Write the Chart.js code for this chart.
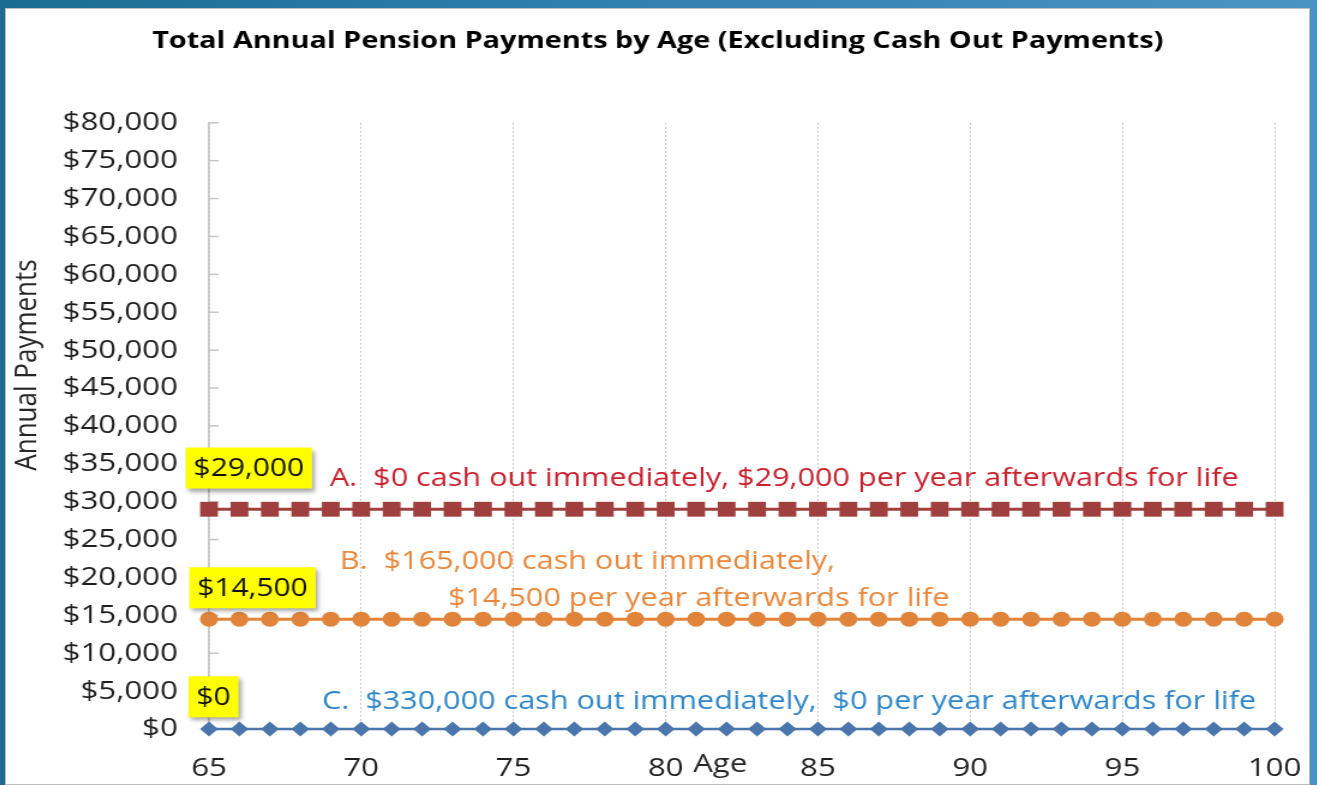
<!DOCTYPE html>
<html>
<head>
<meta charset="utf-8">
<title>Total Annual Pension Payments by Age</title>
<script src="https://cdn.jsdelivr.net/npm/chart.js@4/dist/chart.umd.min.js"></script>
<style>
    html, body { margin: 0; padding: 0; }
    body {
        width: 1317px;
        height: 785px;
        overflow: hidden;
        position: relative;
        background: linear-gradient(to right, #1a6d91, #2f7fb0 45%, #4b93c3);
    }
    #frame {
        position: absolute;
        left: 5px;
        top: 8px;
        width: 1305px;
        height: 777px;
        background: #fff;
        box-shadow: inset 0 0 0 1px #bdbdbd;
        overflow: hidden;
    }
    /* the source picture is stretched sideways, so the chart is too */
    #wrap {
        position: absolute;
        left: 0;
        top: 0;
        width: 1088px;
        height: 777px;
        transform: scaleX(1.2);
        transform-origin: 0 0;
    }
</style>
</head>
<body>
<div id="frame">
    <div id="wrap"><canvas id="pensionChart"></canvas></div>
</div>
<script>
// Chart data
const ages = [65, 66, 67, 68, 69, 70, 71, 72, 73, 74, 75, 76, 77, 78, 79, 80, 81, 82,
              83, 84, 85, 86, 87, 88, 89, 90, 91, 92, 93, 94, 95, 96, 97, 98, 99, 100];
const planA = [29000, 29000, 29000, 29000, 29000, 29000, 29000, 29000, 29000, 29000, 29000, 29000,
               29000, 29000, 29000, 29000, 29000, 29000, 29000, 29000, 29000, 29000, 29000, 29000,
               29000, 29000, 29000, 29000, 29000, 29000, 29000, 29000, 29000, 29000, 29000, 29000];
const planB = [14500, 14500, 14500, 14500, 14500, 14500, 14500, 14500, 14500, 14500, 14500, 14500,
               14500, 14500, 14500, 14500, 14500, 14500, 14500, 14500, 14500, 14500, 14500, 14500,
               14500, 14500, 14500, 14500, 14500, 14500, 14500, 14500, 14500, 14500, 14500, 14500];
const planC = [0, 0, 0, 0, 0, 0, 0, 0, 0, 0, 0, 0,
               0, 0, 0, 0, 0, 0, 0, 0, 0, 0, 0, 0,
               0, 0, 0, 0, 0, 0, 0, 0, 0, 0, 0, 0];
const seriesLabels = ['A', 'B', 'C'];
const xTicks = [65, 70, 75, 80, 85, 90, 95, 100];
const yTicks = [0, 5000, 10000, 15000, 20000, 25000, 30000, 35000, 40000,
                45000, 50000, 55000, 60000, 65000, 70000, 75000, 80000];

const FONT = "'Open Sans', sans-serif";

function money(v) {
    return '$' + v.toLocaleString('en-US');
}

// Text placed in the plot, anchored in data units (age, dollars)
const planNotes = [
    { text: 'A.  $0 cash out immediately, ' + money(planA[0]) + ' per year afterwards for life', age: 68.97, value: 33130, color: '#c8202c' },
    { text: 'B.  $165,000 cash out immediately,', age: 69.3, value: 22250, color: '#e8873a' },
    { text: money(planB[0]) + ' per year afterwards for life', age: 72.85, value: 17380, color: '#e8873a' },
    { text: 'C.  $330,000 cash out immediately,  ' + money(planC[0]) + ' per year afterwards for life', age: 68.71, value: 3690, color: '#2e86c8' }
];
const valueBoxes = [
    { text: money(planA[0]), age: 66.31, value: 34440 },
    { text: money(planB[0]), age: 66.43, value: 18640 },
    { text: money(planC[0]), age: 65.15, value: 4250 }
];

function toPoints(values) {
    return ages.map((a, i) => ({ x: a, y: values[i] }));
}

// Inward tick marks, yellow value boxes, notes and axis titles
const notesPlugin = {
    id: 'notes',
    beforeDatasetsDraw(chart) {
        const { ctx, chartArea, scales } = chart;
        ctx.save();
        ctx.strokeStyle = '#c6c6c6';
        ctx.lineWidth = 1.5;
        yTicks.forEach(v => {
            const py = scales.y.getPixelForValue(v);
            ctx.beginPath();
            ctx.moveTo(chartArea.left, py);
            ctx.lineTo(chartArea.left + 8, py);
            ctx.stroke();
        });
        ctx.restore();
    },
    afterDatasetsDraw(chart) {
        const { ctx, scales } = chart;
        ctx.save();
        ctx.textBaseline = 'middle';

        ctx.font = '25px ' + FONT;
        valueBoxes.forEach(b => {
            const cx = scales.x.getPixelForValue(b.age);
            const cy = scales.y.getPixelForValue(b.value);
            const w = ctx.measureText(b.text).width + 13;
            const h = 41;
            ctx.save();
            ctx.shadowColor = 'rgba(0,0,0,0.35)';
            ctx.shadowBlur = 4;
            ctx.shadowOffsetX = 2;
            ctx.shadowOffsetY = 3;
            ctx.fillStyle = '#ffff00';
            ctx.fillRect(cx - w / 2, cy - h / 2, w, h);
            ctx.restore();
            ctx.fillStyle = '#111';
            ctx.textAlign = 'center';
            ctx.fillText(b.text, cx, cy + 1);
        });

        ctx.font = '25.5px ' + FONT;
        ctx.textAlign = 'left';
        planNotes.forEach(n => {
            ctx.fillStyle = n.color;
            ctx.fillText(n.text, scales.x.getPixelForValue(n.age), scales.y.getPixelForValue(n.value) + 1);
        });
        ctx.restore();
    },
    afterDraw(chart) {
        const { ctx } = chart;
        ctx.save();
        ctx.fillStyle = '#262626';
        ctx.font = '26px ' + FONT;
        ctx.textAlign = 'center';
        ctx.textBaseline = 'alphabetic';
        ctx.fillText('Age', 596, 764);

        ctx.translate(26, 357);
        ctx.rotate(-Math.PI / 2);
        ctx.fillText('Annual Payments', 0, 0);
        ctx.restore();
    }
};

const ctx = document.getElementById('pensionChart').getContext('2d');
const pensionChart = new Chart(ctx, {
    type: 'line',
    data: {
        datasets: [{
            label: seriesLabels[0],
            data: toPoints(planA),
            borderColor: '#a0403e',
            backgroundColor: '#a0403e',
            borderWidth: 3,
            pointStyle: 'rect',
            pointRadius: 10.5,
            pointBorderWidth: 0,
            clip: false,
            order: 1
        }, {
            label: seriesLabels[1],
            data: toPoints(planB),
            borderColor: '#e0843c',
            backgroundColor: '#e0843c',
            borderWidth: 3,
            pointStyle: 'circle',
            pointRadius: 7.5,
            pointBorderWidth: 0,
            clip: false,
            order: 2
        }, {
            label: seriesLabels[2],
            data: toPoints(planC),
            borderColor: '#4a76ab',
            backgroundColor: '#4a76ab',
            borderWidth: 2.5,
            pointStyle: 'rectRot',
            pointRadius: 7.5,
            pointBorderWidth: 0,
            clip: false,
            order: 3
        }]
    },
    options: {
        responsive: true,
        maintainAspectRatio: false,
        animation: false,
        layout: {
            padding: { left: 30, right: 30, top: 0, bottom: 0 }
        },
        plugins: {
            legend: { display: false },
            tooltip: { enabled: false },
            title: {
                display: true,
                text: 'Total Annual Pension Payments by Age (Excluding Cash Out Payments)',
                color: '#000',
                font: { family: FONT, size: 24, weight: 'bold' },
                padding: { top: 19, bottom: 67 }
            }
        },
        scales: {
            x: {
                type: 'linear',
                min: 65,
                max: 100,
                afterBuildTicks: scale => {
                    scale.ticks = xTicks.map(v => ({ value: v }));
                },
                afterFit: scale => {
                    scale.height = 56;
                    scale.paddingLeft = 0;
                    scale.paddingRight = 0;
                },
                ticks: {
                    color: '#1f1f1f',
                    font: { family: FONT, size: 26 },
                    padding: 24,
                    maxRotation: 0
                },
                grid: {
                    color: '#c4c4c4',
                    lineWidth: 1,
                    drawTicks: false
                },
                border: { display: false, dash: [2, 2] }
            },
            y: {
                min: 0,
                max: 80000,
                afterBuildTicks: scale => {
                    scale.ticks = yTicks.map(v => ({ value: v }));
                },
                afterFit: scale => {
                    scale.width = 140;
                },
                ticks: {
                    color: '#1f1f1f',
                    font: { family: FONT, size: 26 },
                    padding: 26,
                    callback: v => money(v)
                },
                grid: { display: false, drawTicks: false },
                border: { display: true, color: '#c6c6c6', width: 1.5 }
            }
        }
    },
    plugins: [notesPlugin]
});
</script>
</body>
</html>
